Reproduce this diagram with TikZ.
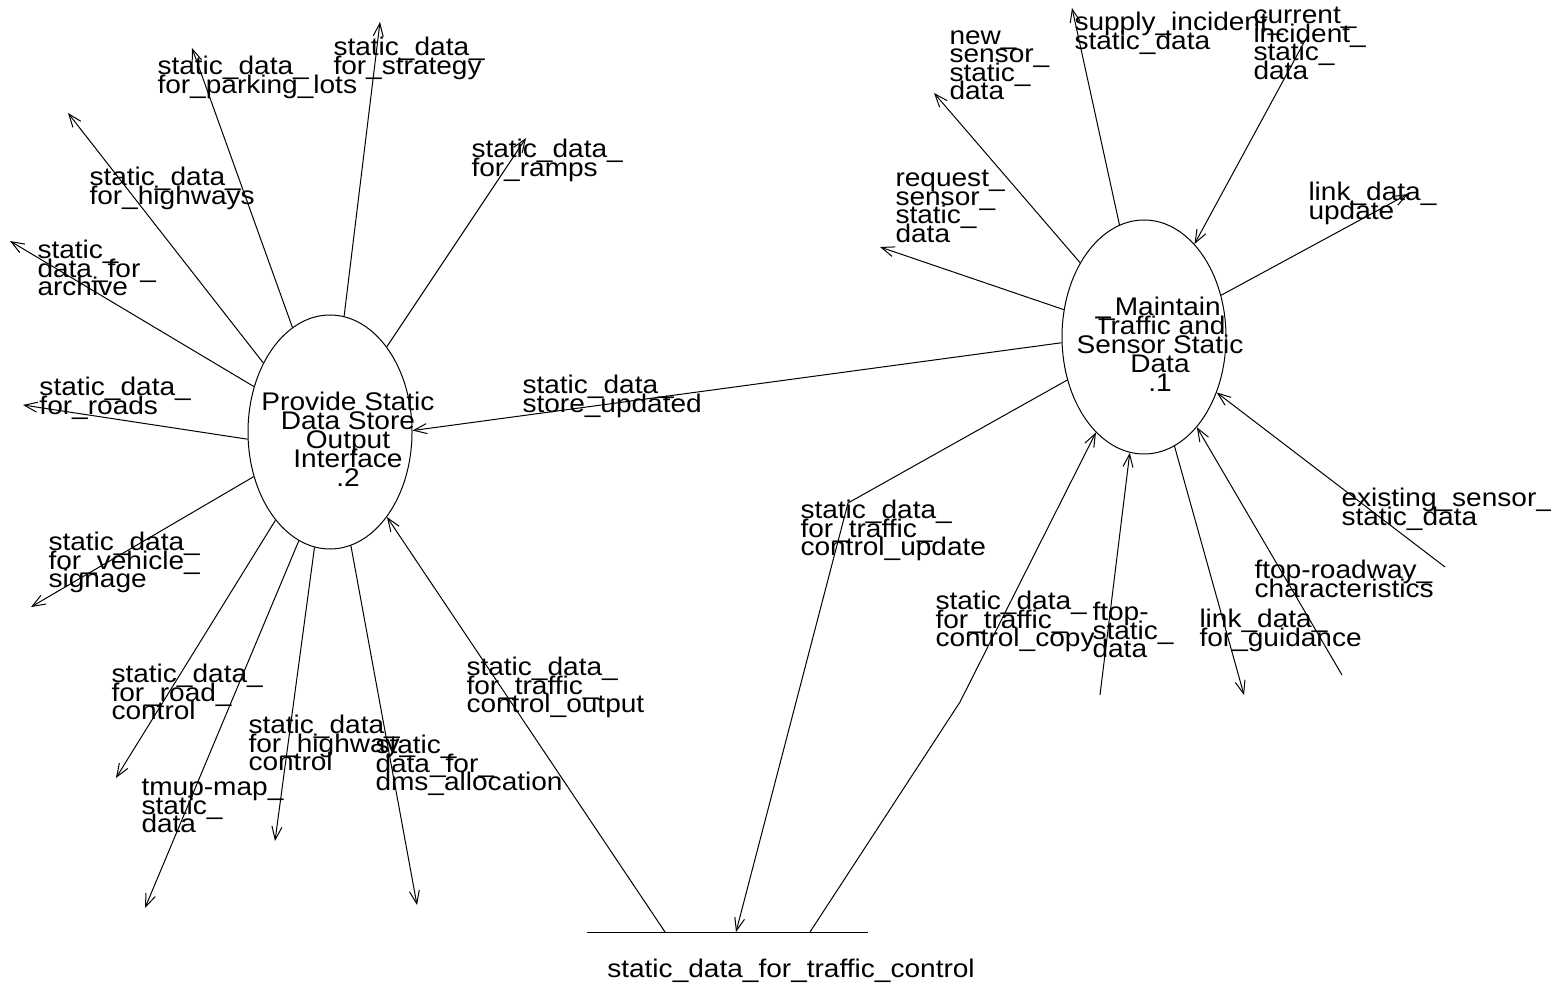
\documentclass[tikz,border=0pt]{standalone}
\usepackage{fontspec}
\setmainfont{Liberation Sans}[FakeStretch=1.1]
\usetikzlibrary{shapes.geometric,arrows.meta}

\tikzset{
  proc/.style={draw, ellipse, minimum width=82pt, minimum height=117pt, inner sep=0pt},
  ptext/.style={anchor=north, align=center, inner sep=0pt,
    font={\fontsize{12.75}{9.5}\selectfont\lineskiplimit=-\maxdimen},
    execute at begin node={\rule{0pt}{9pt}}},
  lbl/.style={anchor=north west, align=left, inner sep=0pt,
    font={\fontsize{12.75}{9.25}\selectfont\lineskiplimit=-\maxdimen},
    execute at begin node={\rule{0pt}{9pt}}},
  flow/.style={-{Straight Barb[length=6.5pt,width=5pt]}},
}

\begin{document}
\begin{tikzpicture}[x=0.5pt, y=-0.5pt, line width=0.5pt]
    \useasboundingbox (0,0) rectangle (1551,988);

    % processes
    \node[proc] (p2) at (330,432) {};
    \node[ptext] (p2t) at (348,392) {Provide Static\\Data Store\\Output\\Interface\\.2};
    \node[proc] (p1) at (1144,337) {};
    \node[ptext] (p1t) at (1160,297) {\_Maintain\\Traffic and\\Sensor Static\\Data\\.1};

    % data store
    \coordinate (sl) at (587,932);
    \coordinate (sr) at (868,932);
    \coordinate (s1) at (665,932);
    \coordinate (s2) at (736,932);
    \coordinate (s3) at (810,932);
    \draw (sl) -- (sr);
    \node[anchor=base, inner sep=0pt, font=\fontsize{12.75}{12}\selectfont] (store) at (791,977)
        {static\_data\_for\_traffic\_control};

    % outer ends
    \coordinate (parking) at (192,48);
    \coordinate (strategy) at (380,22);
    \coordinate (ramps) at (526,138);
    \coordinate (highways) at (68,113);
    \coordinate (archive) at (10,241);
    \coordinate (roads) at (23,405);
    \coordinate (signage) at (31,607);
    \coordinate (roadctl) at (116,778);
    \coordinate (tmup) at (145,908);
    \coordinate (hwyctl) at (275,841);
    \coordinate (dms) at (417,905);
    \coordinate (newsens) at (934,93);
    \coordinate (reqsens) at (880,247);
    \coordinate (supply) at (1072,8);
    \coordinate (current) at (1308,35);
    \coordinate (linkupd) at (1408,194);
    \coordinate (existing) at (1445,567);
    \coordinate (roadway) at (1342,675);
    \coordinate (guidance) at (1244,695);
    \coordinate (ftopst) at (1100,695);
    \coordinate (bendu) at (848,503);
    \coordinate (bendc) at (960,702);

    % flows of .2
    \draw[flow] (p2) -- (parking);
    \draw[flow] (p2) -- (strategy);
    \draw[flow] (p2) -- (ramps);
    \draw[flow] (p2.134) -- (highways);
    \draw[flow] (p2) -- (archive);
    \draw[flow] (p2.185) -- (roads);
    \draw[flow] (p2) -- (signage);
    \draw[flow] (p2) -- (roadctl);
    \draw[flow] (p2.254) -- (tmup);
    \draw[flow] (p2) -- (hwyctl);
    \draw[flow] (p2) -- (dms);
    \draw[flow] (p1.184) -- (p2.1);
    \draw[flow] (s1) -- (p2);

    % flows of .1
    \draw[flow] (p1) -- (newsens);
    \draw[flow] (p1) -- (reqsens);
    \draw[flow] (p1) -- (supply);
    \draw[flow] (current) -- (p1);
    \draw[flow] (p1) -- (linkupd);
    \draw[flow] (existing) -- (p1);
    \draw[flow] (roadway) -- (p1);
    \draw[flow] (p1) -- (guidance);
    \draw[flow] (ftopst) -- (p1);
    \draw[flow] (p1) -- (bendu) -- (s2);
    \draw[flow] (s3) -- (bendc) -- (p1);

    % labels
    \node[lbl] (lparking) at (157,56) {static\_data\_\\for\_parking\_lots};
    \node[lbl] (lstrategy) at (333,37) {static\_data\_\\for\_strategy};
    \node[lbl] (lramps) at (471,139) {static\_data\_\\for\_ramps};
    \node[lbl] (lhighways) at (89,167) {static\_data\_\\for\_highways};
    \node[lbl] (larchive) at (37,240) {static\_\\data\_for\_\\archive};
    \node[lbl] (lroads) at (39,377) {static\_data\_\\for\_roads};
    \node[lbl] (lsignage) at (48,532) {static\_data\_\\for\_vehicle\_\\signage};
    \node[lbl] (lroadctl) at (111,664) {static\_data\_\\for\_road\_\\control};
    \node[lbl] (ltmup) at (141,779) {tmup-map\_\\static\_\\data};
    \node[lbl] (lhwyctl) at (248,715) {static\_data\_\\for\_highway\_\\control};
    \node[lbl] (ldms) at (375,735) {static\_\\data\_for\_\\dms\_allocation};
    \node[lbl] (loutput) at (466,657) {static\_data\_\\for\_traffic\_\\control\_output};
    \node[lbl] (lstoreupd) at (522,375) {static\_data\_\\store\_updated};
    \node[lbl] (lupdate) at (800,500) {static\_data\_\\for\_traffic\_\\control\_update};
    \node[lbl] (lcopy) at (935,591) {static\_data\_\\for\_traffic\_\\control\_copy};
    \node[lbl] (lftopst) at (1092,602) {ftop-\\static\_\\data};
    \node[lbl] (lguidance) at (1199,609) {link\_data\_\\for\_guidance};
    \node[lbl] (lroadway) at (1254,560) {ftop-roadway\_\\characteristics};
    \node[lbl] (lexisting) at (1341,488) {existing\_sensor\_\\static\_data};
    \node[lbl] (llinkupd) at (1308,182) {link\_data\_\\update};
    \node[lbl] (lcurrent) at (1253,7) {current\_\\incident\_\\static\_\\data};
    \node[lbl] (lsupply) at (1074,12) {supply\_incident\_\\static\_data};
    \node[lbl] (lnewsens) at (949,30) {new\_\\sensor\_\\static\_\\data};
    \node[lbl] (lreqsens) at (895,170) {request\_\\sensor\_\\static\_\\data};
\end{tikzpicture}
\end{document}
